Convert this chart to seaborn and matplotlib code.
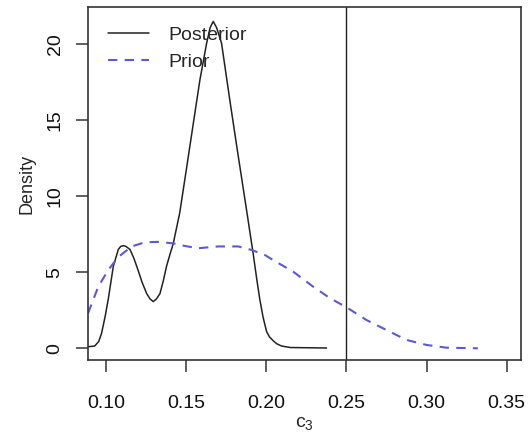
import matplotlib
matplotlib.use("Agg")
import matplotlib.pyplot as plt
import seaborn as sns
import pandas as pd
from matplotlib.lines import Line2D

# ---- data ----
post_x = [0.0888, 0.0930, 0.0955, 0.0973, 0.0995, 0.1014, 0.1046, 0.1077, 0.1092, 0.1108,
          0.1125, 0.1150, 0.1175, 0.1200, 0.1225, 0.1254, 0.1275, 0.1295, 0.1315, 0.1337,
          0.1358, 0.1378, 0.1400, 0.1420, 0.1460, 0.1505, 0.1545, 0.1586, 0.1628, 0.1650,
          0.1669, 0.1690, 0.1721, 0.1773, 0.1820, 0.1877, 0.1918, 0.1940, 0.1960, 0.1980,
          0.2002, 0.2020, 0.2043, 0.2065, 0.2095, 0.2150, 0.2376]
post_y = [0.10, 0.15, 0.45, 1.00, 2.10, 3.20, 5.40, 6.50, 6.70, 6.75,
          6.70, 6.50, 5.90, 5.15, 4.35, 3.60, 3.25, 3.07, 3.25, 3.60,
          4.45, 5.40, 6.20, 6.90, 8.90, 12.00, 14.80, 17.65, 20.07, 21.10,
          21.50, 21.10, 20.07, 16.30, 13.00, 9.10, 6.25, 4.60, 3.20, 2.05,
          1.10, 0.75, 0.50, 0.30, 0.15, 0.05, 0.02]

prior_x = [0.0888, 0.0952, 0.1014, 0.1077, 0.1160, 0.1243, 0.1326, 0.1420, 0.1493, 0.1575,
           0.1700, 0.1825, 0.1908, 0.1991, 0.2043, 0.2168, 0.2293, 0.2397, 0.2500, 0.2625,
           0.2750, 0.2875, 0.3000, 0.3124, 0.3320]
prior_y = [2.30, 4.05, 5.15, 6.00, 6.70, 6.97, 7.00, 6.90, 6.73, 6.58,
           6.70, 6.70, 6.47, 6.14, 5.80, 5.04, 4.05, 3.30, 2.70, 1.86,
           1.20, 0.55, 0.22, 0.04, 0.00]

x_ticks = [0.10, 0.15, 0.20, 0.25, 0.30, 0.35]
x_tick_labels = ["0.10", "0.15", "0.20", "0.25", "0.30", "0.35"]
y_ticks = [0, 5, 10, 15, 20]
true_value = 0.25
series_names = ["Posterior", "Prior"]

sns.set_style("ticks")
plt.rcParams["font.family"] = ["Liberation Sans", "DejaVu Sans"]
plt.rcParams["mathtext.fontset"] = "custom"
plt.rcParams["mathtext.rm"] = "Liberation Sans"
plt.rcParams["mathtext.it"] = "Liberation Sans"

fig = plt.figure(figsize=(5.30, 4.33), dpi=100)
ax = fig.add_axes([88 / 530, 1 - 360 / 433, (521 - 88) / 530, (360 - 7) / 433])

post_df = pd.DataFrame({"x": post_x, "y": post_y})
prior_df = pd.DataFrame({"x": prior_x, "y": prior_y})

post_color = "#222222"
prior_color = "#5a5ad2"

sns.lineplot(data=post_df, x="x", y="y", ax=ax, color=post_color, linewidth=1.1,
             sort=False, estimator=None)
sns.lineplot(data=prior_df, x="x", y="y", ax=ax, color=prior_color, linewidth=1.5,
             sort=False, estimator=None, linestyle=(0, (4.5, 3.5)))
ax.axvline(true_value, color="#222222", linewidth=1.0)

ax.set_xlim(0.0888, 0.3589)
ax.set_ylim(-0.77, 22.45)
ax.set_xticks(x_ticks)
ax.set_xticklabels(x_tick_labels)
ax.set_yticks(y_ticks)
ax.set_yticklabels([str(v) for v in y_ticks], rotation=90, va="center")

for sp in ax.spines.values():
    sp.set_visible(True)
    sp.set_linewidth(1.2)
    sp.set_color("#333333")

ax.tick_params(axis="both", direction="out", length=8.5, width=1.1, color="#333333",
               labelsize=14, labelcolor="#111111")
ax.tick_params(axis="x", pad=17)
ax.tick_params(axis="y", pad=9)

ax.set_xlabel(r"$\mathregular{c_3}$", fontsize=14, labelpad=2)
ax.set_ylabel("Density", fontsize=13, labelpad=8)

handles = [Line2D([], [], color=post_color, linewidth=1.1),
           Line2D([], [], color=prior_color, linewidth=1.5, linestyle=(0, (4.5, 3.5)))]
ax.legend(handles, series_names, loc="upper left", bbox_to_anchor=(0.046, 0.946),
          frameon=False, fontsize=14, handlelength=2.1, handletextpad=1.0,
          borderpad=0, borderaxespad=0, labelspacing=0.5)

fig.savefig("out.png", dpi=100)
